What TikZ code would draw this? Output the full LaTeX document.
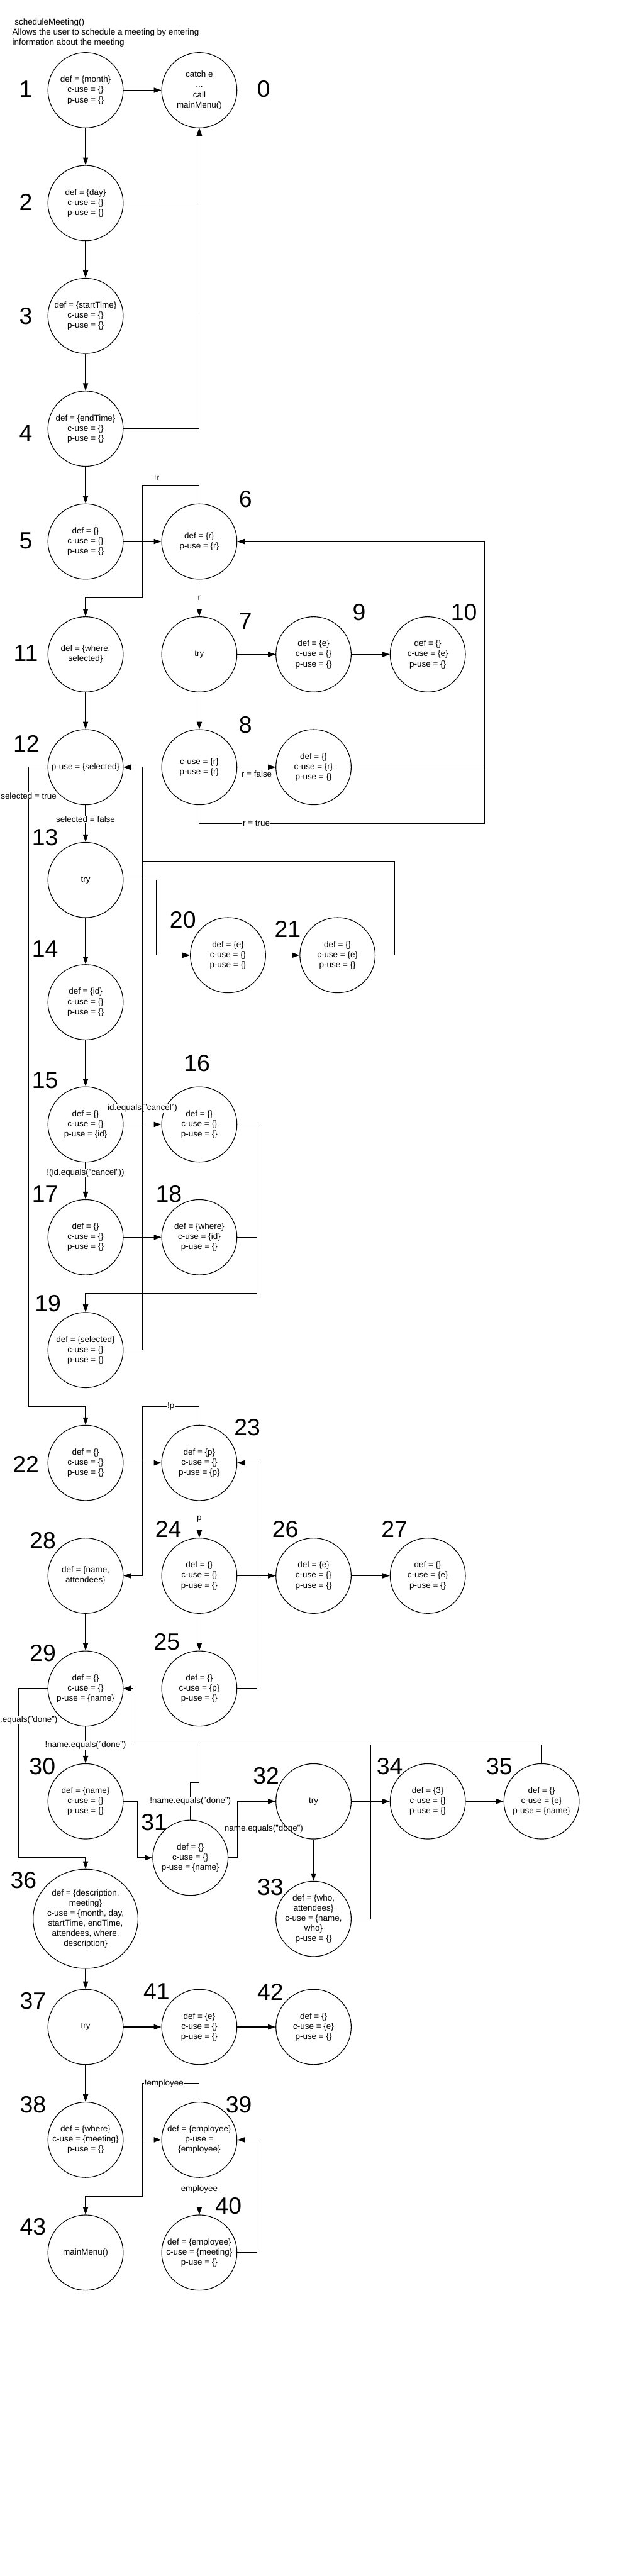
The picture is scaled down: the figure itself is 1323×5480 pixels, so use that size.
\documentclass[tikz,border=0pt]{standalone}
\usepackage{fontspec}
\setmainfont{Liberation Sans}
\usetikzlibrary{arrows.meta,shapes.geometric}
\newcommand{\flowfont}{\fontsize{18}{21.5}\selectfont}
\newcommand{\tagfont}{\fontsize{50}{60}\selectfont}

\begin{document}
\begin{tikzpicture}[x=1pt,y=-1pt,
          vertex/.style={draw,circle,line width=1.5pt,minimum size=160pt,
            inner sep=0pt,align=center,font=\flowfont},
          tag/.style={inner sep=0pt,font=\tagfont},
          cond/.style={fill=white,inner sep=1pt,font=\flowfont},
          arr/.style={line width=1.5pt,-{Triangle[length=16pt,width=11pt]}}
        ]
        \useasboundingbox (0,0) rectangle (1323,5480);
        \node[anchor=north west,inner sep=0pt,align=left,font=\flowfont] (title)
          at (26,39) {\ scheduleMeeting()\\Allows the user to schedule a meeting by entering\\information about the meeting};
        % column of blocks
        \node[vertex] (n1) at (182,192) {def = \{month\}\\c-use = \{\}\\p-use = \{\}};
        \node[vertex] (n0) at (424,192) {catch e\\...\\call\\mainMenu()};
        \node[vertex] (n2) at (182,432) {def = \{day\}\\c-use = \{\}\\p-use = \{\}};
        \node[vertex] (n3) at (182,672) {def = \{startTime\}\\c-use = \{\}\\p-use = \{\}};
        \node[vertex] (n4) at (182,912) {def = \{endTime\}\\c-use = \{\}\\p-use = \{\}};
        \node[vertex] (n5) at (182,1152) {def = \{\}\\c-use = \{\}\\p-use = \{\}};
        \node[vertex] (n6) at (424,1152) {def = \{r\}\\p-use = \{r\}};
        \node[vertex] (n11) at (182,1392) {def = \{where,\\selected\}};
        \node[vertex] (n7) at (424,1392) {try};
        \node[vertex] (n9) at (667,1392) {def = \{e\}\\c-use = \{\}\\p-use = \{\}};
        \node[vertex] (n10) at (910,1392) {def = \{\}\\c-use = \{e\}\\p-use = \{\}};
        \node[vertex] (n12) at (182,1632) {p-use = \{selected\}};
        \node[vertex] (n8) at (424,1632) {c-use = \{r\}\\p-use = \{r\}};
        \node[vertex] (n8b) at (667,1632) {def = \{\}\\c-use = \{r\}\\p-use = \{\}};
        \node[vertex] (n13) at (182,1872) {try};
        \node[vertex] (n20) at (485,2032) {def = \{e\}\\c-use = \{\}\\p-use = \{\}};
        \node[vertex] (n21) at (718,2032) {def = \{\}\\c-use = \{e\}\\p-use = \{\}};
        \node[vertex] (n14) at (182,2132) {def = \{id\}\\c-use = \{\}\\p-use = \{\}};
        \node[vertex] (n15) at (182,2392) {def = \{\}\\c-use = \{\}\\p-use = \{id\}};
        \node[vertex] (n16) at (424,2392) {def = \{\}\\c-use = \{\}\\p-use = \{\}};
        \node[vertex] (n17) at (182,2632) {def = \{\}\\c-use = \{\}\\p-use = \{\}};
        \node[vertex] (n18) at (424,2632) {def = \{where\}\\c-use = \{id\}\\p-use = \{\}};
        \node[vertex] (n19) at (182,2872) {def = \{selected\}\\c-use = \{\}\\p-use = \{\}};
        \node[vertex] (n22) at (182,3112) {def = \{\}\\c-use = \{\}\\p-use = \{\}};
        \node[vertex] (n23) at (424,3112) {def = \{p\}\\c-use = \{\}\\p-use = \{p\}};
        \node[vertex] (n28) at (182,3352) {def = \{name,\\attendees\}};
        \node[vertex] (n24) at (424,3352) {def = \{\}\\c-use = \{\}\\p-use = \{\}};
        \node[vertex] (n26) at (667,3352) {def = \{e\}\\c-use = \{\}\\p-use = \{\}};
        \node[vertex] (n27) at (910,3352) {def = \{\}\\c-use = \{e\}\\p-use = \{\}};
        \node[vertex] (n29) at (182,3592) {def = \{\}\\c-use = \{\}\\p-use = \{name\}};
        \node[vertex] (n25) at (424,3592) {def = \{\}\\c-use = \{p\}\\p-use = \{\}};
        \node[vertex] (n30) at (182,3832) {def = \{name\}\\c-use = \{\}\\p-use = \{\}};
        \node[vertex] (n31) at (405,3952) {def = \{\}\\c-use = \{\}\\p-use = \{name\}};
        \node[vertex] (n32) at (667,3832) {try};
        \node[vertex] (n34) at (910,3832) {def = \{3\}\\c-use = \{\}\\p-use = \{\}};
        \node[vertex] (n35) at (1152,3832) {def = \{\}\\c-use = \{e\}\\p-use = \{name\}};
        \node[vertex] (n33) at (667,4082) {def = \{who,\\attendees\}\\c-use = \{name,\\who\}\\p-use = \{\}};
        \node[vertex,ellipse,inner xsep=-3.6pt,minimum width=223pt,minimum height=211pt] (n36) at (182,4082)
          {def = \{description,\\meeting\}\\c-use = \{month, day,\\startTime, endTime,\\attendees, where,\\description\}};
        \node[vertex] (n37) at (182,4312) {try};
        \node[vertex] (n41) at (424,4312) {def = \{e\}\\c-use = \{\}\\p-use = \{\}};
        \node[vertex] (n42) at (667,4312) {def = \{\}\\c-use = \{e\}\\p-use = \{\}};
        \node[vertex] (n38) at (182,4552) {def = \{where\}\\c-use = \{meeting\}\\p-use = \{\}};
        \node[vertex] (n39) at (424,4552) {def = \{employee\}\\p-use =\\\{employee\}};
        \node[vertex] (n43) at (182,4792) {mainMenu()};
        \node[vertex] (n40) at (424,4792) {def = \{employee\}\\c-use = \{meeting\}\\p-use = \{\}};
        % numbers
        \foreach \n/\x/\y in {0/561/190,1/55/190,2/55/430,3/55/672,4/55/921,
            5/55/1150,6/522/1062,7/522/1321,8/522/1542,9/764/1302,10/987/1302,
            11/55/1390,12/56/1582,13/96/1782,14/96/2018,15/96/2298,16/419/2262,
            17/96/2540,18/359/2540,19/102/2773,20/389/1957,21/612/1977,22/55/3115,
            23/526/3037,24/358/3253,25/355/3493,26/607/3253,27/839/3253,28/91/3277,
            29/91/3517,30/90/3757,31/328/3877,32/566/3777,33/575/4014,34/829/3757,
            35/1062/3757,36/50/4000,37/70/4257,38/70/4477,39/508/4477,40/486/4693,
            41/333/4237,42/575/4237,43/70/4737}
          \node[tag] (t\n) at (\x,\y) {\n};
        % connectors
        \draw[arr] (n1) -- (n0);
        \draw[arr] (n1) -- (n2);
        \draw[arr] (n2) -| (n0);
        \draw[arr] (n3) -| (n0);
        \draw[arr] (n4) -| (n0);
        \draw[arr] (n2) -- (n3);
        \draw[arr] (n3) -- (n4);
        \draw[arr] (n4) -- (n5);
        \draw[arr] (n5) -- (n6);
        \draw[arr] (n6.north) -- (424,1032) -- (303,1032) -- (303,1271) -- (182,1271) -- (n11.north);
        \node[font=\flowfont,inner sep=1pt] (lnr) at (333,1016) {!r};
        \draw[arr] (n6) -- node[cond]{r} (n7);
        \draw[arr] (n7) -- (n9);
        \draw[arr] (n9) -- (n10);
        \draw[arr] (n7) -- (n8);
        \draw[arr] (n8) -- (n8b);
        \node[font=\flowfont,inner sep=1pt] (lrf) at (546,1646) {r = false};
        \draw[arr] (n8b.east) -- (1031,1632) -- (1031,1152) -- (n6.east);
        \draw[arr] (n8.south) -- (424,1752) -- node[cond,pos=0.2]{r = true} (1031,1752)
          -- (1031,1152) -- (n6.east);
        \draw[arr] (n11) -- (n12);
        \draw[arr] (n12) -- node[cond,pos=0.38]{selected = false} (n13);
        \draw[arr] (n12.west) -- (61,1632) -- node[cond,pos=0.045]{selected = true} (61,2992)
          -- (182,2992) -- (n22.north);
        \draw[arr] (n13.east) -- (333,1872) -- (333,2032) -- (n20.west);
        \draw[arr] (n20) -- (n21);
        \draw[arr] (n21.east) -- (840,2032) -- (840,1832) -- (303,1832) -- (303,1632) -- (n12.east);
        \draw[arr] (n13) -- (n14);
        \draw[arr] (n14) -- (n15);
        \draw[arr] (n15) -- (n16);
        \node[cond] (lcancel) at (303,2358) {id.equals("cancel")};
        \draw[arr] (n15) -- node[cond,pos=0.29]{!(id.equals("cancel"))} (n17);
        \draw[arr] (n17) -- (n18);
        \draw[arr] (n16.east) -- (546,2392) -- (546,2752) -- (182,2752) -- (n19.north);
        \draw[arr] (n18.east) -- (546,2632) -- (546,2752) -- (182,2752) -- (n19.north);
        \draw[arr] (n19.east) -- (303,2872) -- (303,1632) -- (n12.east);
        \draw[arr] (n22) -- (n23);
        \draw[arr] (n23.north) -- (424,2992) -- node[cond]{!p} (303,2992) -- (303,3352) -- (n28.east);
        \draw[arr] (n23) -- node[cond]{p} (n24);
        \draw[arr] (n24) -- (n26);
        \draw[arr] (n26) -- (n27);
        \draw[arr] (n24) -- (n25);
        \draw[arr] (n25.east) -- (546,3592) -- (546,3112) -- (n23.east);
        \draw[arr] (n28) -- (n29);
        \draw[arr] (n29.west) -- (40,3592) -- (40,3952) -- (182,3952) -- (n36.north);
        \node[cond,anchor=west,inner sep=0pt] (ldone) at (0,3659) {.equals("done")};
        \draw[arr] (n29) -- node[cond]{!name.equals("done")} (n30);
        \draw[arr] (n30.east) -- (293,3832) -- (293,3952) -- (n31.west);
        \draw[arr] (n31.north) -- node[cond]{!name.equals("done")} (405,3792) -- (424,3792)
          -- (424,3712) -- (283,3712) -- (283,3592) -- (n29.east);
        \draw[arr] (n31.east) -- (505,3952) -- (505,3832) -- (n32.west);
        \node[font=\flowfont,inner sep=0pt] (ldone2) at (561,3890) {name.equals("done")};
        \draw[arr] (n32) -- (n33);
        \draw[arr] (n32) -- (n34);
        \draw[arr] (n34) -- (n35);
        \draw[arr] (n33.east) -- (789,4082) -- (789,3712) -- (283,3712) -- (283,3592) -- (n29.east);
        \draw[arr] (n35.north) -- (1152,3712) -- (283,3712) -- (283,3592) -- (n29.east);
        \draw[arr] (n36) -- (n37);
        \draw[arr] (n37) -- (n41);
        \draw[arr] (n41) -- (n42);
        \draw[arr] (n37) -- (n38);
        \draw[arr] (n38) -- (n39);
        \draw[arr] (n39.north) -- (424,4432) -- node[cond,pos=0.62]{!employee} (303,4432)
          -- (303,4672) -- (182,4672) -- (n43.north);
        \draw[arr] (n39) -- node[cond,pos=0.31]{employee} (n40);
        \draw[arr] (n40.east) -- (546,4792) -- (546,4552) -- (n39.east);
      \end{tikzpicture}
\end{document}
